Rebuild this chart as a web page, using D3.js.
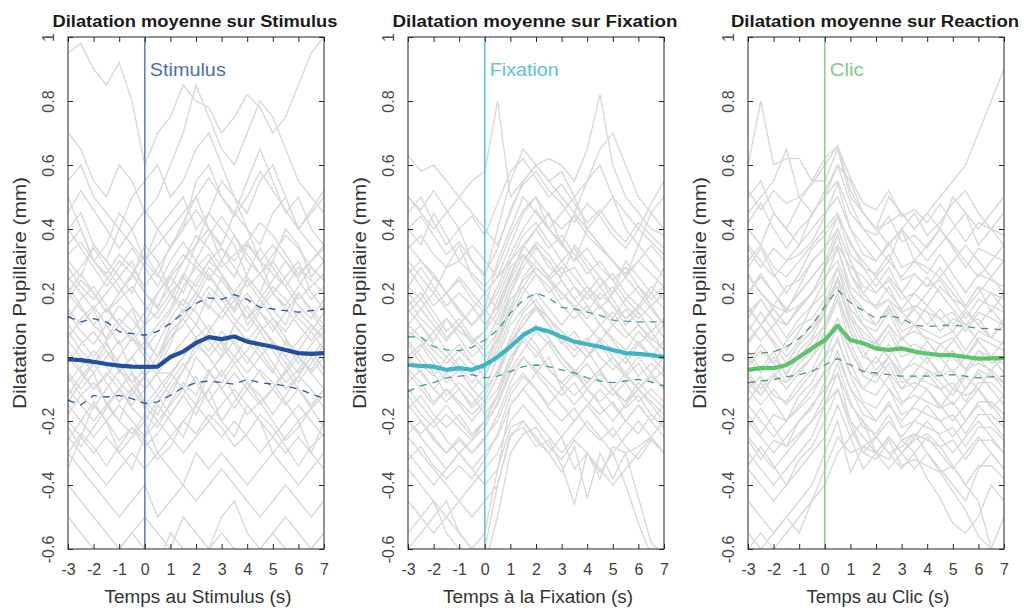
<!DOCTYPE html>
<html><head><meta charset="utf-8">
<script src="https://cdn.jsdelivr.net/npm/d3@7"></script>
<style>body{margin:0;background:#fff}</style></head>
<body><svg id="c" width="1024" height="608"></svg>
<script>
// ---------- DATA ----------
const times = [-3,-2.5,-2,-1.5,-1,-0.5,0,0.5,1,1.5,2,2.5,3,3.5,4,4.5,5,5.5,6,6.5,7];
const xTicks = [-3,-2,-1,0,1,2,3,4,5,6,7];
const yTicks = [-0.6,-0.4,-0.2,0,0.2,0.4,0.6,0.8,1];

const titles = ["Dilatation moyenne sur Stimulus","Dilatation moyenne sur Fixation","Dilatation moyenne sur Reaction"];
const xTitles = ["Temps au Stimulus (s)","Temps à la Fixation (s)","Temps au Clic (s)"];
const eventLabels = ["Stimulus","Fixation","Clic"];
const yTitle = "Dilatation Pupillaire (mm)";

const stimMean = [-0.007,-0.010,-0.015,-0.022,-0.027,-0.030,-0.031,-0.030,0.000,0.017,0.044,0.062,0.056,0.064,0.048,0.040,0.032,0.022,0.012,0.010,0.012];
const stimUp   = [0.126,0.110,0.120,0.110,0.079,0.073,0.068,0.080,0.105,0.137,0.168,0.185,0.180,0.195,0.180,0.155,0.150,0.145,0.140,0.145,0.150];
const stimLo   = [-0.135,-0.150,-0.120,-0.125,-0.120,-0.130,-0.145,-0.140,-0.120,-0.095,-0.080,-0.075,-0.080,-0.085,-0.070,-0.080,-0.085,-0.090,-0.100,-0.115,-0.130];

const fixMean = [-0.025,-0.028,-0.030,-0.040,-0.035,-0.040,-0.025,0.000,0.032,0.069,0.090,0.080,0.063,0.048,0.040,0.032,0.022,0.012,0.010,0.006,0.000];
const fixUp   = [0.063,0.063,0.032,0.022,0.020,0.030,0.053,0.084,0.137,0.178,0.200,0.185,0.155,0.150,0.140,0.130,0.115,0.112,0.110,0.110,0.110];
const fixLo   = [-0.108,-0.090,-0.080,-0.065,-0.060,-0.055,-0.065,-0.060,-0.045,-0.030,-0.025,-0.030,-0.040,-0.050,-0.065,-0.075,-0.080,-0.075,-0.070,-0.078,-0.090];

const clicMean = [-0.040,-0.035,-0.035,-0.025,0.000,0.027,0.053,0.098,0.053,0.043,0.027,0.022,0.027,0.017,0.011,0.006,0.006,0.000,-0.005,-0.004,-0.003];
const clicUp   = [0.010,0.012,0.016,0.032,0.058,0.100,0.158,0.210,0.170,0.145,0.120,0.130,0.120,0.100,0.095,0.098,0.100,0.095,0.090,0.088,0.085];
const clicLo   = [-0.080,-0.075,-0.070,-0.062,-0.055,-0.045,-0.025,-0.005,-0.025,-0.045,-0.050,-0.055,-0.060,-0.060,-0.060,-0.058,-0.055,-0.060,-0.065,-0.062,-0.060];

// individual trials, in hundredths of mm, sampled at `times`
const stimTrials = [
[95,98,90,85,92,80,60,70,75,85,80,78,70,75,82,78,70,75,85,95,100],
[70,65,55,50,60,55,45,50,60,70,85,75,65,60,70,80,75,65,55,50,45],
[55,60,50,45,40,50,55,60,50,55,65,70,60,50,45,55,60,50,40,45,50],
[40,45,35,30,40,35,30,40,45,50,40,45,55,50,40,35,45,50,40,35,30],
[30,25,35,30,25,20,30,35,40,45,50,40,35,45,40,30,35,30,25,30,35],
[25,20,15,20,25,30,20,15,25,30,35,40,30,25,35,30,20,25,30,20,15],
[20,15,10,15,10,5,10,20,25,20,30,25,20,15,25,20,15,10,20,15,10],
[15,10,15,5,10,15,5,10,15,25,20,15,25,20,10,15,20,15,10,5,10],
[10,5,0,5,-5,0,5,0,10,15,10,20,15,10,5,10,5,0,5,10,5],
[5,0,-5,0,5,-5,-10,-5,0,5,10,5,0,10,5,0,-5,5,0,-5,0],
[0,-5,-10,-5,-10,-15,-10,-5,-5,0,5,0,5,0,-5,0,5,0,-5,0,5],
[-5,-10,-5,-15,-10,-5,-15,-10,-5,-10,0,-5,0,5,0,-5,-10,-5,0,-5,-10],
[-10,-15,-20,-15,-20,-10,-15,-20,-15,-10,-15,-5,-10,-5,-10,-15,-10,-15,-10,-15,-10],
[-15,-20,-25,-20,-15,-20,-25,-20,-25,-20,-15,-20,-15,-10,-15,-20,-25,-20,-15,-20,-25],
[-20,-25,-30,-25,-30,-25,-20,-30,-25,-30,-25,-20,-25,-20,-25,-30,-25,-30,-25,-30,-20],
[-25,-30,-35,-40,-35,-30,-35,-30,-35,-40,-30,-35,-30,-35,-40,-35,-30,-35,-40,-35,-30],
[-30,-35,-40,-45,-50,-45,-40,-50,-45,-40,-45,-40,-35,-40,-45,-50,-45,-40,-45,-50,-45],
[-40,-45,-50,-55,-60,-55,-50,-55,-60,-50,-55,-60,-50,-45,-55,-60,-55,-50,-55,-60,-55],
[-50,-55,-60,-65,-60,-55,-60,-65,-55,-60,-65,-60,-55,-60,-65,-60,-55,-60,-65,-60,-55],
[35,40,30,25,20,25,35,30,20,25,35,45,40,35,25,20,30,40,35,25,30],
[-8,-3,2,-3,-8,-12,-6,0,8,12,6,10,4,-2,2,8,12,6,0,-4,2],
[12,18,22,16,10,6,2,8,14,22,28,32,26,18,12,16,22,18,12,8,14],
[-35,-25,-15,-20,-30,-35,-25,-15,-20,-25,-15,-10,-20,-25,-15,-20,-30,-25,-20,-30,-35],
[50,40,30,35,45,40,30,25,35,40,55,60,50,45,55,65,55,45,50,40,35],
[28,22,18,24,30,26,20,16,22,30,38,34,28,32,36,30,26,22,28,24,20],
[18,24,20,14,18,22,16,12,18,26,22,30,34,28,22,26,30,24,18,22,26],
[6,12,16,10,4,8,2,-4,4,14,20,16,12,18,24,18,12,8,14,10,6],
[-2,4,8,2,-4,0,-6,-2,6,10,16,22,18,12,8,14,10,4,-2,4,8],
[-12,-6,-2,-8,-14,-10,-16,-12,-6,0,6,2,8,4,-2,4,-2,-8,-4,2,-4],
[22,16,10,6,12,8,14,20,26,32,28,24,30,38,32,26,20,16,22,28,24],
[-18,-12,-8,-14,-20,-24,-18,-22,-14,-8,-12,-4,-10,-16,-10,-4,-8,-14,-20,-16,-10],
[32,36,30,26,32,28,22,28,34,40,46,40,34,30,36,42,38,32,26,30,34],
[2,-4,-10,-6,0,6,0,-6,-12,-4,2,8,2,10,16,10,4,-2,-8,-2,4],
[-26,-20,-14,-20,-26,-22,-28,-24,-18,-12,-18,-10,-4,-12,-18,-14,-20,-26,-22,-16,-22],
[14,8,4,10,16,12,6,0,6,12,18,26,20,14,20,14,8,14,20,14,8],
[40,34,28,22,28,34,28,22,30,36,30,38,44,38,30,26,32,38,34,28,24],
[-6,-12,-16,-10,-4,-8,-14,-18,-10,-4,4,0,-6,0,6,2,-4,-10,-6,0,-6],
[24,28,34,28,22,16,10,14,20,16,24,30,26,20,26,34,28,22,16,12,18],
[-30,-24,-28,-34,-28,-22,-26,-32,-28,-20,-24,-18,-22,-28,-24,-18,-22,-28,-34,-28,-24],
[8,2,-2,4,-2,-8,-4,4,12,18,14,8,14,20,14,8,2,-4,2,8,2],
[45,52,46,40,34,40,46,40,34,42,50,56,50,44,50,58,52,46,40,46,52],
[-14,-8,-2,2,-4,-10,-6,-12,-18,-12,-6,-14,-20,-14,-8,-12,-18,-12,-6,-10,-16],
[20,26,20,14,20,26,32,26,20,14,20,28,24,18,12,18,24,30,24,18,22],
[-22,-28,-22,-16,-10,-16,-20,-14,-8,-2,-8,-14,-8,-2,-8,-14,-10,-4,-10,-16,-12]
];
const fixTrials = [
[63,58,60,55,50,55,58,80,50,55,60,62,60,55,65,82,60,50,45,40,38],
[50,45,40,45,50,45,40,35,45,55,60,55,58,50,55,60,50,45,40,48,55],
[40,35,45,38,30,35,30,25,35,45,50,40,45,50,40,45,50,40,35,45,40],
[30,25,20,28,35,25,20,15,25,35,40,45,35,30,40,35,30,25,35,30,25],
[22,18,25,20,15,10,15,10,20,30,35,28,25,35,30,25,20,30,25,20,28],
[15,10,5,12,8,5,0,5,15,25,30,25,20,15,20,25,18,12,15,20,15],
[8,5,0,-5,0,-5,-10,0,10,15,20,15,10,15,10,5,10,15,10,5,10],
[0,-5,-10,-5,-10,-15,-10,-5,5,10,15,10,5,0,5,10,5,0,5,0,5],
[-5,-10,-15,-10,-15,-20,-15,-10,0,5,0,5,0,-5,0,5,0,-5,0,-5,0],
[-10,-15,-20,-15,-20,-25,-20,-15,-5,0,-5,0,-10,-5,-10,-5,-10,-5,-10,-5,-10],
[-15,-20,-25,-30,-25,-30,-25,-20,-10,-5,-10,-15,-10,-15,-10,-15,-20,-15,-10,-15,-20],
[-20,-25,-30,-35,-30,-35,-30,-25,-15,-10,-15,-20,-25,-20,-15,-20,-25,-20,-15,-20,-25],
[-25,-30,-35,-40,-45,-40,-35,-30,-20,-15,-20,-25,-30,-25,-20,-25,-30,-25,-20,-25,-30],
[-35,-40,-45,-50,-45,-50,-45,-40,-25,-20,-25,-30,-25,-35,-30,-35,-40,-35,-30,-25,-20],
[-45,-50,-55,-50,-55,-60,-55,-35,-22,-20,-26,-30,-36,-28,-44,-30,-38,-30,-28,-25,-30],
[-55,-50,-45,-55,-60,-65,-60,-40,-24,-22,-28,-26,-34,-46,-30,-38,-28,-30,-44,-58,-62],
[-60,-55,-50,-45,-55,-60,-65,-50,-30,-24,-22,-28,-32,-26,-30,-36,-30,-40,-52,-62,-66],
[35,30,25,20,25,20,15,30,40,50,45,40,35,45,40,35,30,25,30,35,30],
[10,15,20,15,10,15,20,25,30,35,30,25,30,25,20,15,20,25,20,15,10],
[-2,3,8,2,-3,-8,-3,8,18,22,16,12,8,4,0,6,2,-2,4,0,-4],
[45,50,42,35,40,30,25,40,55,65,60,55,50,45,55,65,70,60,50,45,50],
[5,0,-5,-12,-8,-12,-18,-12,-2,8,4,-4,-8,-12,-8,-4,-10,-14,-8,-12,-16],
[20,15,10,5,10,5,8,18,28,32,26,20,24,18,14,20,16,10,14,8,12],
[-30,-35,-40,-35,-30,-35,-40,-35,-15,-10,-5,-10,-15,-20,-15,-10,-15,-20,-15,-20,-15],
[28,22,16,20,14,10,14,20,30,38,42,36,30,34,28,22,26,20,16,22,18],
[16,20,14,8,12,6,2,8,20,28,34,30,24,18,22,16,12,18,14,8,12],
[4,-2,-6,0,-4,-10,-6,2,12,20,26,22,16,12,16,10,6,2,8,4,0],
[-8,-4,-10,-14,-10,-16,-12,-4,6,14,18,12,8,4,0,4,-2,-6,-2,-8,-4],
[22,28,22,16,20,16,10,16,26,34,40,34,38,32,26,30,24,18,22,16,20],
[-16,-12,-18,-22,-18,-24,-20,-12,-2,6,10,6,0,-4,-8,-4,-10,-14,-10,-14,-18],
[34,38,32,28,30,26,22,28,38,46,50,44,40,44,38,34,30,26,30,26,22],
[10,6,2,-2,2,-2,-6,4,14,22,28,24,18,22,16,10,14,8,4,8,2],
[-24,-20,-26,-30,-26,-30,-26,-18,-8,0,-4,-8,-12,-8,-14,-18,-14,-20,-24,-18,-22],
[40,44,38,32,36,30,26,34,46,54,58,52,48,42,48,44,38,34,40,36,32],
[0,4,-2,-8,-4,-10,-14,-6,4,10,16,10,4,8,2,-4,0,-6,-10,-6,-10],
[18,12,8,12,6,0,4,12,22,30,36,32,26,28,22,18,22,16,12,16,10],
[-12,-18,-22,-18,-22,-26,-22,-14,-4,2,8,4,-2,-6,-2,-8,-12,-8,-14,-10,-14],
[26,30,26,20,24,18,14,22,32,40,46,40,36,30,34,28,24,28,22,18,22],
[-32,-28,-34,-38,-34,-38,-32,-24,-12,-6,-10,-16,-20,-16,-22,-26,-22,-28,-32,-26,-30],
[6,10,4,0,4,-2,-4,6,16,24,28,24,20,16,12,16,10,6,10,6,2],
[50,46,52,46,40,44,38,48,58,62,56,50,54,48,42,46,40,36,42,38,34],
[-4,-8,-14,-10,-14,-18,-14,-6,4,12,16,12,6,2,6,0,-4,0,-6,-2,-6],
[14,18,12,6,10,4,8,14,24,32,28,24,28,22,18,22,16,12,16,12,6],
[-20,-24,-20,-26,-30,-26,-20,-12,0,6,2,-4,-8,-4,-10,-14,-10,-16,-12,-18,-22]
];
const clicTrials = [
[60,80,60,62,62,55,55,65,50,45,40,42,45,40,45,50,55,60,70,80,90],
[45,50,55,65,50,45,50,60,55,45,40,50,45,40,45,40,50,45,40,45,50],
[40,35,45,40,35,45,50,55,45,40,35,30,40,35,30,35,40,45,35,40,35],
[30,35,28,25,30,35,40,45,35,30,25,30,25,30,28,25,30,35,30,25,30],
[20,25,20,15,20,25,30,35,28,25,20,25,20,15,20,25,20,15,20,25,20],
[15,10,15,10,15,20,25,30,20,15,10,15,10,15,10,15,10,15,10,15,10],
[5,10,5,0,5,10,15,25,15,10,5,10,5,10,5,0,5,10,5,0,5],
[0,-5,0,-5,0,5,10,18,8,0,5,0,-5,0,5,0,-5,0,5,0,-5],
[-5,-10,-5,-10,-5,0,5,12,2,-5,0,-5,-10,-5,0,-5,-10,-5,0,-5,-10],
[-10,-15,-10,-15,-10,-5,0,5,-5,-10,-5,-10,-15,-10,-5,-10,-15,-10,-5,-10,-15],
[-15,-20,-25,-20,-15,-10,-5,0,-10,-15,-20,-15,-20,-15,-10,-15,-20,-15,-10,-15,-20],
[-20,-25,-30,-25,-20,-15,-10,-5,-15,-20,-25,-20,-25,-20,-15,-20,-25,-20,-15,-20,-25],
[-25,-30,-35,-30,-25,-20,-15,-10,-20,-25,-30,-25,-30,-25,-20,-25,-30,-25,-20,-25,-30],
[-35,-40,-45,-40,-35,-30,-25,-15,-25,-35,-30,-35,-30,-35,-30,-35,-40,-45,-35,-30,-35],
[-45,-50,-55,-50,-45,-40,-30,-20,-36,-28,-30,-32,-26,-30,-38,-44,-52,-55,-50,-40,-45],
[-55,-60,-55,-50,-55,-45,-35,-25,-30,-28,-25,-30,-28,-24,-30,-36,-42,-48,-56,-60,-50],
[-60,-55,-60,-55,-50,-45,-40,-30,-25,-20,-30,-25,-30,-26,-24,-28,-34,-40,-45,-60,-65],
[50,55,45,40,48,55,62,66,52,45,40,35,40,45,38,42,48,52,45,40,45],
[10,5,10,15,20,25,30,40,30,20,25,20,15,20,25,20,15,10,15,20,15],
[-3,2,-2,5,10,12,18,22,12,8,4,0,6,2,-2,4,0,-4,2,-2,0],
[35,30,25,30,35,40,45,50,40,35,30,35,40,30,35,40,35,30,25,30,35],
[25,20,15,10,15,20,28,38,26,20,15,18,14,10,16,12,8,14,10,6,12],
[-8,-12,-6,-2,4,8,14,24,10,2,-4,0,-6,-10,-4,-8,-12,-6,-10,-4,-8],
[-30,-35,-40,-35,-30,-25,-15,-5,-20,-30,-25,-30,-35,-30,-25,-30,-35,-30,-25,-30,-35],
[26,20,16,22,24,30,34,44,32,28,22,28,20,26,22,24,18,16,22,14,20],
[14,18,12,10,16,20,28,34,22,18,16,18,10,16,14,8,12,10,12,6,10],
[2,-4,2,-6,2,6,14,24,12,4,2,8,0,2,0,-6,2,-4,-2,-4,0],
[-10,-6,-12,-14,-8,-4,4,10,2,-6,-8,-2,-10,-8,-10,-16,-10,-12,-10,-16,-12],
[20,26,20,14,22,30,34,40,30,22,20,24,18,20,16,22,18,12,18,16,14],
[-18,-24,-18,-20,-16,-12,-4,6,-6,-14,-16,-10,-18,-16,-18,-20,-18,-24,-18,-18,-22],
[34,28,34,30,32,36,44,54,40,32,30,36,28,30,26,32,26,20,26,24,22],
[8,14,8,2,8,16,20,28,18,10,8,14,6,8,6,4,6,0,6,4,2],
[-26,-32,-26,-28,-24,-20,-12,-2,-14,-22,-24,-18,-26,-24,-26,-28,-26,-32,-26,-26,-30],
[42,48,40,34,40,44,52,60,48,40,38,44,36,38,34,40,34,28,34,32,30],
[-2,4,-2,-8,-2,2,10,20,8,0,-2,4,-4,-2,-4,-6,-4,-10,-4,-6,-8],
[16,10,16,14,16,20,28,38,26,18,16,22,14,16,14,12,14,8,14,12,10],
[-14,-8,-14,-20,-12,-8,0,10,-2,-10,-12,-6,-14,-12,-14,-16,-14,-20,-14,-14,-18],
[28,34,26,20,26,34,38,44,36,28,26,32,24,26,22,28,22,16,22,20,18],
[-34,-28,-34,-40,-32,-28,-20,-10,-22,-30,-32,-26,-34,-32,-34,-36,-34,-40,-34,-34,-38],
[4,10,4,-2,4,8,16,28,14,6,4,10,2,4,2,0,2,-4,2,0,-2],
[52,46,52,48,50,54,60,66,56,48,46,52,44,46,42,48,42,36,42,40,38],
[-6,-12,-6,-8,-4,0,8,18,4,-4,-6,0,-8,-6,-8,-10,-8,-14,-8,-8,-12],
[12,18,12,6,12,16,24,34,20,12,10,16,8,10,8,6,8,2,8,6,4],
[-22,-16,-22,-28,-20,-16,-8,2,-10,-18,-20,-14,-22,-20,-22,-24,-22,-28,-22,-22,-26]
];

// ---------- LAYOUT / STYLE ----------
const panels = [
  {left:68,  mean:stimMean, up:stimUp, lo:stimLo, trials:stimTrials,
   cMean:"#1f4f9e", cDash:"#2c5a9c", cLine:"#5a84c4", cLabel:"#4a70aa"},
  {left:408, mean:fixMean, up:fixUp, lo:fixLo, trials:fixTrials,
   cMean:"#3db5c7", cDash:"#3c9aa6", cLine:"#62c6d6", cLabel:"#5ec2d2"},
  {left:748, mean:clicMean, up:clicUp, lo:clicLo, trials:clicTrials,
   cMean:"#5cc46a", cDash:"#4c9c5c", cLine:"#8ccf98", cLabel:"#80c98e"}
];
const titleLen = [285, 285, 288];
const xTitleLen = [187, 190, 143];
const eventLen = [76, 69, 34];
const W = 256, plotTop = 37, plotBottom = 549;
const font = "'Liberation Sans', Arial, sans-serif";
const svg = d3.select("#c");

panels.forEach((p, i) => {
  const x = d3.scaleLinear().domain([-3, 7]).range([p.left, p.left + W]);
  const y = d3.scaleLinear().domain([-0.6, 1]).range([plotBottom, plotTop]);
  const g = svg.append("g");
  const clipId = "clip" + i;
  svg.append("clipPath").attr("id", clipId).append("rect")
    .attr("x", p.left).attr("y", plotTop).attr("width", W).attr("height", plotBottom - plotTop);

  const plot = g.append("g").attr("clip-path", `url(#${clipId})`);
  const line = d3.line().x((d, k) => x(times[k])).y(d => y(d));

  plot.selectAll("path.trial").data(p.trials).join("path")
    .attr("class", "trial")
    .attr("d", tr => line(tr.map(v => v / 100)))
    .attr("fill", "none").attr("stroke", "#d8d8d8").attr("stroke-width", 1.4);

  plot.append("line").attr("x1", x(0)).attr("x2", x(0)).attr("y1", plotTop).attr("y2", plotBottom)
    .attr("stroke", p.cLine).attr("stroke-width", 1.6);

  [p.up, p.lo].forEach(arr => {
    plot.append("path").attr("d", line(arr)).attr("fill", "none")
      .attr("stroke", p.cDash).attr("stroke-width", 1.3).attr("stroke-dasharray", "7,6");
  });
  plot.append("path").attr("d", line(p.mean)).attr("fill", "none")
    .attr("stroke", p.cMean).attr("stroke-width", 4.2).attr("stroke-linejoin", "round");

  g.append("text").attr("x", x(0) + 5).attr("y", 76).text(eventLabels[i])
    .attr("font-family", font).attr("font-size", 18).attr("fill", p.cLabel)
    .attr("textLength", eventLen[i]).attr("lengthAdjust", "spacingAndGlyphs");

  g.append("rect").attr("x", p.left).attr("y", plotTop).attr("width", W).attr("height", plotBottom - plotTop)
    .attr("fill", "none").attr("stroke", "#262626").attr("stroke-width", 1);

  const axB = g.append("g").attr("transform", `translate(0,${plotBottom})`)
    .call(d3.axisBottom(x).tickValues(xTicks).tickSizeInner(-5).tickSizeOuter(0).tickPadding(15).tickFormat(d => String(d)));
  const axT = g.append("g").attr("transform", `translate(0,${plotTop})`)
    .call(d3.axisTop(x).tickValues(xTicks).tickSizeInner(-5).tickSizeOuter(0).tickFormat(""));
  const axL = g.append("g").attr("transform", `translate(${p.left},0)`)
    .call(d3.axisLeft(y).tickValues(yTicks).tickSizeInner(-5).tickSizeOuter(0).tickFormat(d => String(+d.toFixed(1))));
  const axR = g.append("g").attr("transform", `translate(${p.left + W},0)`)
    .call(d3.axisRight(y).tickValues(yTicks).tickSizeInner(-5).tickSizeOuter(0).tickFormat(""));
  [axB, axT, axL, axR].forEach(a => {
    a.select(".domain").remove();
    a.selectAll(".tick line").attr("stroke", "#262626");
  });
  axB.selectAll(".tick text").attr("font-family", font).attr("font-size", 16).attr("fill", "#404040");
  axL.selectAll(".tick text")
    .attr("font-family", font).attr("font-size", 16).attr("fill", "#4a4a4a")
    .attr("x", null).attr("dy", null)
    .attr("text-anchor", "middle")
    .attr("transform", "translate(-20,0) rotate(-90)")
    .attr("dominant-baseline", "central");

  g.append("text").attr("x", p.left + W / 2 - 1).attr("y", 27).attr("text-anchor", "middle")
    .attr("font-family", font).attr("font-weight", "bold").attr("font-size", 16)
    .attr("textLength", titleLen[i]).attr("lengthAdjust", "spacingAndGlyphs")
    .attr("fill", "#1a1a1a").text(titles[i]);
  g.append("text").attr("x", p.left + W / 2 + 2).attr("y", 603).attr("text-anchor", "middle")
    .attr("font-family", font).attr("font-size", 18).attr("fill", "#333")
    .attr("textLength", xTitleLen[i]).attr("lengthAdjust", "spacingAndGlyphs").text(xTitles[i]);
  g.append("text").attr("transform", `translate(${p.left - 48},${(plotTop + plotBottom) / 2}) rotate(-90)`)
    .attr("text-anchor", "middle").attr("dominant-baseline", "central")
    .attr("font-family", font).attr("font-size", 18).attr("fill", "#333")
    .attr("textLength", 232).attr("lengthAdjust", "spacingAndGlyphs").text(yTitle);
});
</script>
</body></html>
